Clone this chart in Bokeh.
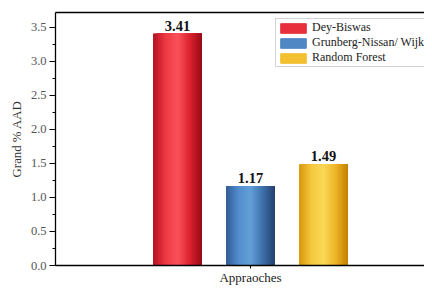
from bokeh.plotting import figure
from bokeh.models import (Range1d, LinearAxis, FixedTicker, Legend, LegendItem,
                          NumeralTickFormatter, ColumnDataSource)
from bokeh.core.properties import value
from bokeh.embed import file_html
from bokeh.resources import INLINE

methods = ["Dey-Biswas", "Grunberg-Nissan/ Wijk", "Random Forest"]
aad = [3.41, 1.17, 1.49]
positions = [1, 2, 3]
y_ticks = [0.0, 0.5, 1.0, 1.5, 2.0, 2.5, 3.0, 3.5]
x_label = "Appraoches"
y_label = "Grand % AAD"

# gradient stops (left -> highlight -> right) for cylinder look
gradients = [
    [(180, 16, 32), (236, 56, 66), (250, 82, 90), (220, 34, 46), (150, 10, 22)],
    [(48, 92, 150), (82, 140, 204), (98, 160, 218), (62, 112, 170), (36, 64, 108)],
    [(216, 150, 12), (246, 200, 62), (250, 216, 88), (236, 180, 38), (196, 128, 0)],
]
mid_colors = ["#e8303c", "#4f86c4", "#f2c030"]

FONT = "Liberation Serif"
BAR_W = 0.67

p = figure(width=424, height=287, output_backend="svg", toolbar_location=None,
           x_range=Range1d(-0.671, 4.384), y_range=Range1d(0, 3.72),
           min_border_left=55, min_border_right=0, min_border_top=12,
           min_border_bottom=0)
p.outline_line_color = None
p.xgrid.visible = False
p.ygrid.visible = False
p.background_fill_color = "white"
p.border_fill_color = "white"

# cylinder-like bars drawn as overlapping strips
NS = 30
for i, (xc, h) in enumerate(zip(positions, aad)):
    stops = gradients[i]
    lefts, rights, tops, cols = [], [], [], []
    for k in range(NS):
        t = (k + 0.5) / NS
        seg = t * (len(stops) - 1)
        j = min(int(seg), len(stops) - 2)
        f = seg - j
        c = tuple(int(round(stops[j][m] * (1 - f) + stops[j + 1][m] * f)) for m in range(3))
        lefts.append(xc - BAR_W / 2 + k * BAR_W / NS)
        rights.append(xc + BAR_W / 2)
        tops.append(h)
        cols.append("#%02x%02x%02x" % c)
    src = ColumnDataSource(dict(left=lefts, right=rights, top=tops, color=cols))
    p.quad(left="left", right="right", top="top", bottom=0, fill_color="color",
           line_color=None, source=src)

# value labels
lab = ColumnDataSource(dict(x=positions, y=aad, t=["%.2f" % v for v in aad]))
p.text(x="x", y="y", text="t", source=lab, text_font=value(FONT),
       text_font_style="bold", text_font_size="14.5px", text_align="center",
       text_baseline="bottom", y_offset=-3, text_color="#111111")

# legend swatches
legend_rs = []
for i in range(3):
    r = p.vbar(x=[positions[i]], top=[0], width=0, fill_color=mid_colors[i],
               line_color=mid_colors[i])
    legend_rs.append(r)
legend = Legend(items=[LegendItem(label=methods[i], renderers=[legend_rs[i]]) for i in range(3)],
                location=(220, 198), label_text_font=FONT, label_text_font_size="12px",
                label_text_color="#222222", glyph_width=32, glyph_height=12,
                label_height=13, spacing=0, padding=1, margin=0,
                label_standoff=3, border_line_color="#aaaaaa", border_line_width=1,
                background_fill_alpha=1)
p.add_layout(legend, "center")

# axes styling
yax = p.yaxis[0]
yax.ticker = FixedTicker(ticks=y_ticks, minor_ticks=[0.25 + 0.5 * k for k in range(7)])
yax.formatter = NumeralTickFormatter(format="0.0")
yax.major_label_text_font = FONT
yax.major_label_text_font_size = "12.5px"
yax.major_label_text_color = "#555555"
yax.axis_label = y_label
yax.axis_label_text_font = FONT
yax.axis_label_text_font_size = "12.8px"
yax.axis_label_text_font_style = "normal"
yax.axis_label_text_color = "#333333"
yax.major_tick_out = 6
yax.major_tick_in = 0
yax.minor_tick_out = 3
yax.minor_tick_in = 0
yax.axis_line_width = 1.3
yax.major_label_standoff = 3
yax.axis_label_standoff = 4

xax = p.xaxis[0]
xax.ticker = FixedTicker(ticks=[positions[1]], minor_ticks=[])
xax.major_label_overrides = {positions[1]: x_label}
xax.major_label_text_font = FONT
xax.major_label_text_font_size = "13px"
xax.major_label_text_color = "#222222"
xax.major_tick_out = 3
xax.major_tick_in = 0
xax.major_label_standoff = 1
xax.axis_line_width = 1.3

top_ax = LinearAxis(ticker=FixedTicker(ticks=[]),
                    major_tick_line_color=None, minor_tick_line_color=None,
                    major_label_standoff=0, axis_line_width=1.3)
p.add_layout(top_ax, "above")

open("out.html", "w").write(file_html(p, INLINE))
